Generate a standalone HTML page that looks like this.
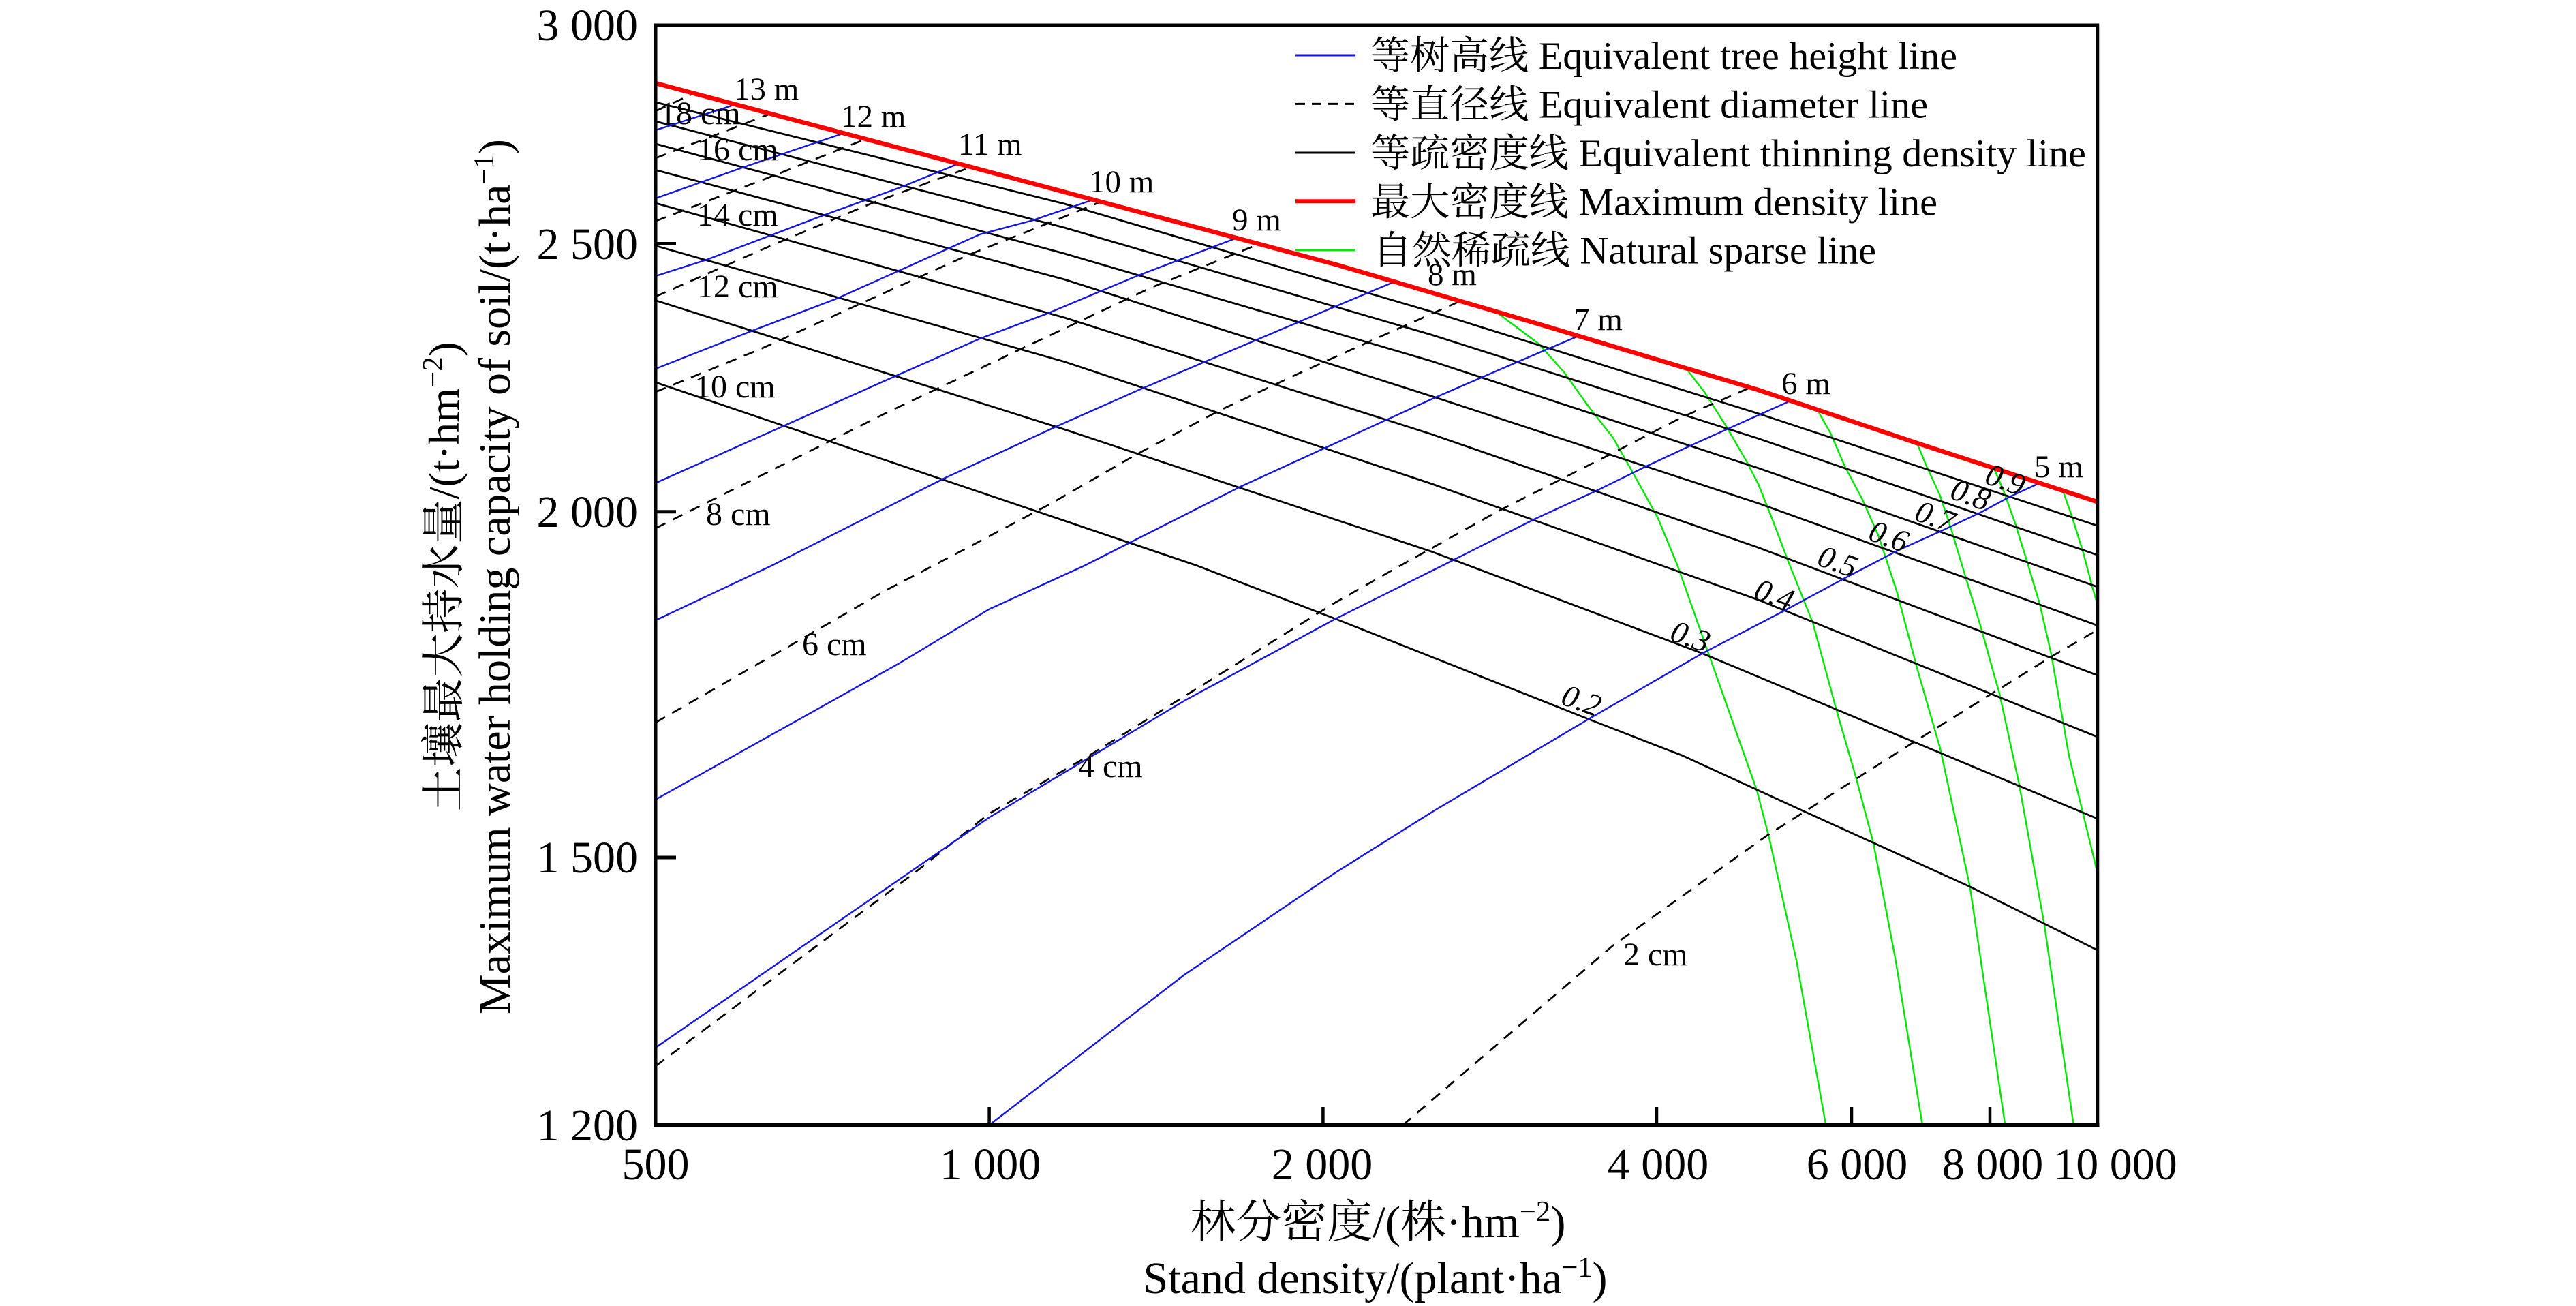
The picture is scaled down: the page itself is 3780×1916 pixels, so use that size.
<!DOCTYPE html>
<html>
<head>
<meta charset="utf-8">
<style>
html,body{margin:0;padding:0;background:#fff;}
svg{display:block;}
text{font-family:"Liberation Serif","Noto Serif CJK SC",serif;fill:#000;}
</style>
</head>
<body>
<svg xmlns="http://www.w3.org/2000/svg" width="3780" height="1916" viewBox="0 0 3780 1916" font-family="'Liberation Serif','Noto Serif CJK SC',serif">
<defs>
<clipPath id="pc"><rect x="962" y="37" width="2116" height="1614"/></clipPath>
</defs>
<rect x="0" y="0" width="3780" height="1916" fill="#fff"/>

<g clip-path="url(#pc)" fill="none" stroke-linejoin="round" stroke-linecap="butt">
<!-- natural sparse lines (green) -->
<g stroke="#00e600" stroke-width="2.4">
<polyline points="2200,461 2258,504.5 2294.5,545.3 2331,596.3 2367,642.2 2396,693.3 2432.6,759.6 2461.7,830 2505,953 2578,1159.5 2596,1229 2636,1408.6 2680,1655"/>
<polyline points="2476,542.8 2501.7,576 2534,627 2563.5,678 2580,710 2600,760 2625,826 2660,913.3 2694,1039 2723.5,1140.7 2749,1237 2781.6,1408.6 2821.6,1655"/>
<polyline points="2668,603.3 2686.7,636.7 2706.7,683.3 2733,733 2756.7,786.7 2783,866.7 2813,980 2847,1098 2890.7,1301 2943,1655"/>
<polyline points="2813,650 2826.7,683.3 2846.7,726.7 2863.3,776.7 2883.3,843.3 2906.7,920 2923.3,980 2934,1017.5 2963,1151 3000,1357.7 3043.4,1655"/>
<polyline points="2925,685 2940,720 2956.7,766.7 2973.3,820 2993.3,886.7 3010,960 3036,1108.6 3080,1290"/>
<polyline points="3028.3,723.3 3040,756.7 3056.7,810 3070,860 3080,895"/>
</g>
<!-- equivalent diameter lines (dashed) -->
<g stroke="#000" stroke-width="2.7" stroke-dasharray="16 12">
<polyline points="962,163 1018,137"/>
<polyline points="962,232 1130,167"/>
<polyline points="962,324.4 1142,255 1237.5,217 1268,205"/>
<polyline points="962,435 1130,361 1279.6,298 1425,245"/>
<polyline points="962,575 1115,512.5 1260.5,446.5 1421,374 1540,326.8 1613,297"/>
<polyline points="962,775 1300,606 1494,514 1688,422.5 1850,357"/>
<polyline points="962,1060 1177,937 1300,866 1417,805 1540,740 1667,667 1790,602 1912,545 2014,499 2142,442"/>
<polyline points="962,1564 1342.7,1280 1451,1194 1598,1108.6 1960,883.6 2054.5,830 2200,749 2360,668 2469,611.6 2572,567"/>
<polyline points="2058,1651 2367,1387 2592.6,1226 2811,1087 2927,1015 3014,961 3080,923"/>
</g>
<!-- equivalent thinning density lines (black) -->
<g stroke="#000" stroke-width="2.8">
<polyline points="962,150 1562,299 2100,457 2580,606.7 3080,772"/>
<polyline points="962,178 1562,334 2100,491 2580,643.3 3080,815"/>
<polyline points="962,211 1562,372 2100,529.6 2580,686.7 3080,861.7"/>
<polyline points="962,249.4 1562,410 2100,581 2580,738.3 3080,918.3"/>
<polyline points="962,298 1562,466 2100,636.8 2580,803.3 3080,991.5"/>
<polyline points="962,360.6 1562,530.7 2100,709.5 2580,880 3080,1082"/>
<polyline points="962,440.7 1562,630 2100,809 2498,958.6 3080,1202"/>
<polyline points="962,561 1562,764 1757,830 1960,908 2331,1055 2469,1108.6 2651,1192 2891,1301 3080,1395"/>
</g>
<!-- equivalent tree height lines (blue) -->
<g stroke="#1414e6" stroke-width="2.4">
<polyline points="962,191 1080,153"/>
<polyline points="962,291 1094,244.3 1237,195.7"/>
<polyline points="962,405 1037,381 1202,318.3 1324,273.9 1409,239"/>
<polyline points="962,541 1107,484 1228,438 1438,343.8 1515,323.4 1604,293"/>
<polyline points="962,708.6 1151,624.4 1317,550.4 1438,496.8 1534,461.1 1668,405 1815,349"/>
<polyline points="962,910 1132,830 1387,701 1553,624.4 1674,570.8 1764,532.5 1960,449.4 2047,413"/>
<polyline points="962,1173 1317,974.6 1451,894 1591,830 1821,713.6 1960,650 2105,583.6 2229,530 2316,493"/>
<polyline points="962,1537 1451,1199.6 1738,1028 1960,907.7 2116,830 2251,762 2345,718.8 2418,683 2483.5,652.4 2625,589"/>
<polyline points="1451,1651 1738,1430 1960,1280 2105,1189 2331,1055 2498,958.6 2620,895 2706.7,848.3 2786.7,806.7 2850,778.3 2906.7,751.7 2950,728.3 2990,710"/>
</g>
<!-- maximum density line (red) -->
<polyline points="962,122 1406,240 1960,388 2270,479 2580,572 2813,650 3080,737" stroke="#ff0000" stroke-width="6.5"/>
</g>

<!-- frame -->
<g stroke="#000" fill="none">
<line x1="962" y1="37" x2="3078" y2="37" stroke-width="5"/>
<line x1="3078" y1="34.5" x2="3078" y2="1654" stroke-width="4.5"/>
<line x1="962" y1="34.5" x2="962" y2="1654" stroke-width="5"/>
<line x1="959.5" y1="1651" x2="3080.5" y2="1651" stroke-width="6"/>
<!-- y ticks -->
<line x1="962" y1="357.5" x2="992" y2="357.5" stroke-width="5"/>
<line x1="962" y1="750.8" x2="992" y2="750.8" stroke-width="5"/>
<line x1="962" y1="1258" x2="992" y2="1258" stroke-width="5"/>
<!-- x ticks -->
<line x1="1451.6" y1="1651" x2="1451.6" y2="1624" stroke-width="4.5"/>
<line x1="1941.4" y1="1651" x2="1941.4" y2="1624" stroke-width="4.5"/>
<line x1="2431" y1="1651" x2="2431" y2="1624" stroke-width="4.5"/>
<line x1="2717" y1="1651" x2="2717" y2="1624" stroke-width="4.5"/>
<line x1="2920" y1="1651" x2="2920" y2="1624" stroke-width="4.5"/>
</g>

<!-- y tick labels -->
<g font-size="66" text-anchor="end" font-family="'Liberation Serif',serif">
<text x="936" y="59">3 000</text>
<text x="936" y="380">2 500</text>
<text x="936" y="773">2 000</text>
<text x="936" y="1280">1 500</text>
<text x="936" y="1673">1 200</text>
</g>
<!-- x tick labels -->
<g font-size="66" text-anchor="middle" font-family="'Liberation Serif',serif">
<text x="962" y="1730">500</text>
<text x="1453" y="1730">1 000</text>
<text x="1940" y="1730">2 000</text>
<text x="2433" y="1730">4 000</text>
<text x="2725" y="1730">6 000</text>
<text x="2924" y="1730">8 000</text>
<text x="3104" y="1730">10 000</text>
</g>

<!-- axis titles -->
<text x="2022" y="1815" font-size="66" text-anchor="middle" textLength="551" lengthAdjust="spacingAndGlyphs" font-family="'Liberation Serif','Noto Serif CJK SC',serif">林分密度/(株·hm<tspan dy="-24" font-size="42">−2</tspan><tspan dy="24">)</tspan></text>
<text x="2018" y="1897" font-size="66" text-anchor="middle" textLength="681" lengthAdjust="spacingAndGlyphs" font-family="'Liberation Serif',serif">Stand density/(plant·ha<tspan dy="-24" font-size="42">−1</tspan><tspan dy="24">)</tspan></text>
<text transform="translate(673,846) rotate(-90)" font-size="64" text-anchor="middle" textLength="689" lengthAdjust="spacingAndGlyphs" font-family="'Liberation Serif','Noto Serif CJK SC',serif">土壤最大持水量/(t·hm<tspan dy="-24" font-size="42">−2</tspan><tspan dy="24">)</tspan></text>
<text transform="translate(748,846) rotate(-90)" font-size="66" text-anchor="middle" textLength="1284" lengthAdjust="spacingAndGlyphs" font-family="'Liberation Serif',serif">Maximum water holding capacity of soil/(t·ha<tspan dy="-24" font-size="42">−1</tspan><tspan dy="24">)</tspan></text>

<!-- height labels -->
<g font-size="47" font-family="'Liberation Serif',serif">
<text x="1077" y="146">13 m</text>
<text x="1234" y="186">12 m</text>
<text x="1406" y="227">11 m</text>
<text x="1598" y="282">10 m</text>
<text x="1808" y="338">9 m</text>
<text x="2095" y="418">8 m</text>
<text x="2309" y="484">7 m</text>
<text x="2614" y="578">6 m</text>
<text x="2985" y="700">5 m</text>
</g>
<!-- diameter labels -->
<g font-size="48" font-family="'Liberation Serif',serif">
<text x="968" y="182">18 cm</text>
<text x="1023" y="235">16 cm</text>
<text x="1023" y="331">14 cm</text>
<text x="1023" y="436">12 cm</text>
<text x="1019" y="583">10 cm</text>
<text x="1036" y="770">8 cm</text>
<text x="1177" y="961">6 cm</text>
<text x="1582" y="1140">4 cm</text>
<text x="2382" y="1416">2 cm</text>
</g>
<!-- relative density labels -->
<g font-size="46" font-style="italic" text-anchor="middle" font-family="'Liberation Serif',serif">
<text transform="translate(2943,703) rotate(20)" dy="16">0.9</text>
<text transform="translate(2892,725) rotate(20)" dy="16">0.8</text>
<text transform="translate(2840,757) rotate(20)" dy="16">0.7</text>
<text transform="translate(2772,786) rotate(20)" dy="16">0.6</text>
<text transform="translate(2697,823) rotate(20)" dy="16">0.5</text>
<text transform="translate(2604,872) rotate(20)" dy="16">0.4</text>
<text transform="translate(2481,933) rotate(20)" dy="16">0.3</text>
<text transform="translate(2321,1027) rotate(20)" dy="16">0.2</text>
</g>

<!-- legend -->
<g fill="none">
<line x1="1901" y1="81" x2="1989" y2="81" stroke="#1414e6" stroke-width="3"/>
<line x1="1901" y1="152.4" x2="1989" y2="152.4" stroke="#000" stroke-width="3" stroke-dasharray="14 10"/>
<line x1="1901" y1="224" x2="1989" y2="224" stroke="#000" stroke-width="3"/>
<line x1="1901" y1="295.3" x2="1989" y2="295.3" stroke="#ff0000" stroke-width="6"/>
<line x1="1901" y1="366.7" x2="1989" y2="366.7" stroke="#00e600" stroke-width="3.5"/>
</g>
<g font-size="57" font-family="'Liberation Serif','Noto Serif CJK SC',serif">
<text x="2011" y="101" textLength="861" lengthAdjust="spacingAndGlyphs">等树高线 Equivalent tree height line</text>
<text x="2011" y="172.4" textLength="818" lengthAdjust="spacingAndGlyphs">等直径线 Equivalent diameter line</text>
<text x="2011" y="244" textLength="1050" lengthAdjust="spacingAndGlyphs">等疏密度线 Equivalent thinning density line</text>
<text x="2011" y="315.3" textLength="832" lengthAdjust="spacingAndGlyphs">最大密度线 Maximum density line</text>
<text x="2014" y="386.7" textLength="739" lengthAdjust="spacingAndGlyphs">自然稀疏线 Natural sparse line</text>
</g>
</svg>
</body>
</html>
